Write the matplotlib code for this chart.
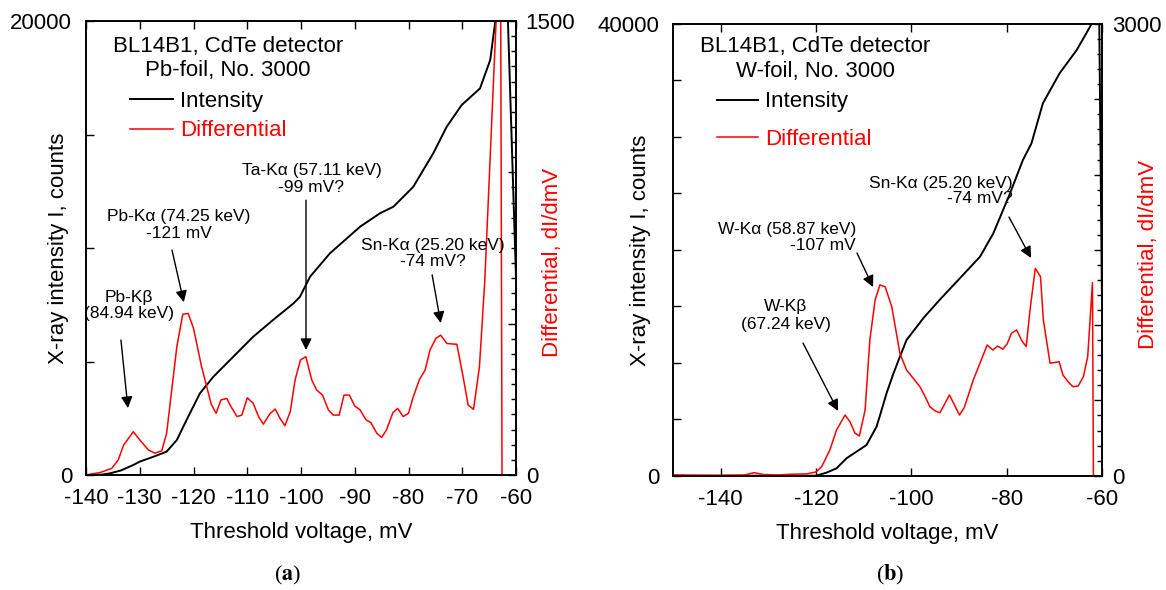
import matplotlib
matplotlib.use('Agg')
import matplotlib.pyplot as plt
from matplotlib.ticker import MultipleLocator, FuncFormatter

plt.rcParams['font.family'] = ['Liberation Sans', 'DejaVu Sans']
plt.rcParams['mathtext.fontset'] = 'stix'
plt.rcParams['axes.unicode_minus'] = False

# ---------------- Panel (a): Pb-foil ----------------
volt_a_I = [-140, -137, -135.5, -133.5, -131.2, -130, -127.5, -125, -123.1, -121.3,
            -118.8, -116.3, -112.6, -108.9, -105.2, -101.4, -100.2, -98.3, -94.6, -89,
            -85.3, -82.8, -79.1, -75.4, -72.9, -70.1, -66.7, -64.8, -63.9, -63, -62,
            -61.5, -60]
int_a = [0, 20, 75, 200, 440, 590, 800, 1030, 1540, 2420,
         3600, 4330, 5210, 6090, 6830, 7560, 7850, 8740, 9770, 10940,
         11530, 11820, 12700, 14170, 15340, 16300, 17030, 18280, 19900, 22500, 23500,
         20000, 8700]

volt_a_D = [-140, -137.4, -135.2, -134, -133, -131.2, -130, -128.4, -127.2, -125.9,
            -125, -123.1, -122, -121, -120, -118.5, -116.7, -115.8, -114.9, -113.8,
            -113.2, -111.9, -111, -110, -108.9, -107.9, -107, -105.8, -104.8, -103.9,
            -103, -102, -101.1, -100.1, -99.1, -98, -97.1, -96, -94.9, -94,
            -92.9, -92, -91, -90, -89, -87.9, -87, -85.9, -85, -84.1,
            -82.9, -82, -81, -80, -79.1, -78, -76.9, -76, -74.9, -74,
            -72.9, -72, -71, -69.9, -68.9, -67.9, -66.8, -65.8, -63.7, -63.0,
            -62.6]
diff_a = [0, 8, 22, 50, 99, 143, 116, 83, 72, 80,
          138, 424, 531, 534, 485, 358, 234, 204, 248, 253,
          231, 193, 198, 255, 237, 193, 168, 202, 218, 187,
          163, 209, 314, 380, 391, 314, 281, 264, 215, 198,
          198, 264, 264, 228, 215, 182, 173, 138, 124, 149,
          206, 220, 193, 204, 259, 314, 347, 413, 452, 462,
          435, 433, 432, 330, 231, 217, 358, 644, 1500, 2500,
          0]

# ---------------- Panel (b): W-foil ----------------
volt_b_I = [-150, -120, -117.8, -115.7, -113.6, -111.5, -109.4, -107.3, -106.6, -105.2,
            -103.8, -102.4, -101, -97.5, -94, -90, -85.6, -82.8, -79.3, -76.6,
            -74.8, -72.4, -68.9, -65.3, -62.9, -62.2, -61.5, -60.57, -60]
int_b = [0, 0, 270, 650, 1540, 2130, 2720, 4340, 5300, 7300,
         9000, 10540, 12020, 13940, 15600, 17400, 19390, 21460, 25000, 27950,
         29430, 32980, 35630, 37700, 39470, 40000, 43000, 40000, 15000]

volt_b_D = [-150, -145, -140, -135, -133, -131, -128, -125, -122, -120,
            -118.8, -117.1, -115.7, -113.9, -112.9, -111.8, -110.9, -109.7, -108.7, -107.6,
            -106.6, -105.5, -104.1, -102.4, -101, -99.6, -98.2, -97.1, -96.1, -95,
            -94, -92, -89.9, -88.9, -87, -85.6, -84.1, -82.9, -81.9, -80.8,
            -79.9, -79, -77.9, -76.8, -75.9, -75.1, -74, -72.9, -72.3, -70.9,
            -69, -68.2, -67.1, -66.1, -65, -63.9, -63.0, -62.0, -61.8]
diff_b = [5, 3, 2, 5, 20, 8, 5, 10, 12, 25,
          60, 170, 303, 403, 359, 282, 264, 436, 901, 1167,
          1267, 1255, 1122, 813, 702, 647, 591, 525, 458, 430,
          418, 536, 403, 452, 636, 747, 868, 835, 861, 841,
          875, 946, 968, 895, 857, 1100, 1377, 1322, 1034, 747,
          757, 669, 624, 591, 596, 658, 790, 1282, 0]

fig = plt.figure(figsize=(11.66, 5.9), dpi=100)


def endpoint_formatter(top):
    def f(v, pos):
        if abs(v) < 1e-9 or abs(v - top) < 1e-6:
            return '%d' % round(v)
        return ''
    return FuncFormatter(f)


def panel(rect, xlim, xstep, Imax, Istep, Dmax, Dmajor, Dminor,
          vI, I, vD, D, ylab_x, y2lab_x, y2lab_y):
    ax = fig.add_axes(rect)
    l1, = ax.plot(vI, I, color='black', lw=1.4, label='Intensity')
    ax.set_xlim(*xlim)
    ax.set_ylim(0, Imax)
    ax.xaxis.set_major_locator(MultipleLocator(xstep))
    ax.yaxis.set_major_locator(MultipleLocator(Istep))
    ax.yaxis.set_major_formatter(endpoint_formatter(Imax))
    ax.tick_params(axis='both', direction='in', length=5.5, width=1,
                   labelsize=16, top=True)
    ax.tick_params(axis='x', pad=9.5)
    ax.tick_params(axis='y', pad=10)
    ax.set_xlabel('Threshold voltage, mV', fontsize=16, labelpad=9.5)
    ax.set_ylabel('X-ray intensity I, counts', fontsize=16)
    ax.yaxis.set_label_coords(ylab_x, 0.5)
    for s in ax.spines.values():
        s.set_linewidth(1.2)

    ax2 = ax.twinx()
    l2, = ax2.plot(vD, D, color='red', lw=1.1, label='Differential')
    ax2.set_ylim(0, Dmax)
    ax2.yaxis.set_major_locator(MultipleLocator(Dmajor))
    ax2.yaxis.set_minor_locator(MultipleLocator(Dminor))
    ax2.yaxis.set_major_formatter(endpoint_formatter(Dmax))
    ax2.tick_params(which='major', direction='in', length=6, width=1,
                    labelsize=16, pad=7)
    ax2.tick_params(which='minor', direction='in', length=3.5, width=1)
    ax2.set_ylabel('Differential, dI/dmV', fontsize=16, color='red')
    ax2.yaxis.set_label_coords(y2lab_x, y2lab_y)
    for s in ax2.spines.values():
        s.set_linewidth(1.2)
    return ax, ax2, l1, l2


def arrow(ax, start, head):
    ax.annotate('', xy=head, xytext=start,
                arrowprops=dict(arrowstyle='-|>', color='black', lw=1.0,
                                mutation_scale=17, shrinkA=0, shrinkB=0))


# ---- panel (a)
axa, axa2, la1, la2 = panel([86 / 1166, 115 / 590, 430 / 1166, 454 / 590],
                            (-140, -60), 10, 20000, 5000, 1500, 500, 50,
                            volt_a_I, int_a, volt_a_D, diff_a,
                            -0.0395, 1.0598, 0.468)
axa2.text(0.330, 0.943, 'BL14B1, CdTe detector', transform=axa2.transAxes,
          ha='center', va='center', fontsize=16)
axa2.text(0.330, 0.892, 'Pb-foil, No. 3000', transform=axa2.transAxes,
          ha='center', va='center', fontsize=16)
axa2.legend(handles=[la1, la2], loc='upper left', bbox_to_anchor=(0.102, 0.846),
            frameon=False, fontsize=16, labelcolor=['black', 'red'],
            borderpad=0, borderaxespad=0, handlelength=1.95, handletextpad=0.3,
            labelspacing=0.38)

fs_ann = 12.5
axa2.text(-132.0, 560, 'Pb-K\u03b2\n(84.94 keV)', ha='center', va='center',
          fontsize=fs_ann, linespacing=1.15)
arrow(axa2, (-133.5, 446), (-132.2, 221))
axa2.text(-122.7, 826, 'Pb-K\u03b1 (74.25 keV)\n-121 mV', ha='center', va='center',
          fontsize=fs_ann, linespacing=1.1)
arrow(axa2, (-124.0, 743), (-121.8, 571))
axa2.text(-98.05, 978, 'Ta-K\u03b1 (57.11 keV)\n-99 mV?', ha='center', va='center',
          fontsize=fs_ann, linespacing=1.1)
arrow(axa2, (-99.07, 908), (-99.07, 413))
axa2.text(-75.44, 732, 'Sn-K\u03b1 (25.20 keV)\n-74 mV?', ha='center', va='center',
          fontsize=fs_ann, linespacing=1.1)
arrow(axa2, (-75.6, 661), (-74.0, 502))

# ---- panel (b)
axb, axb2, lb1, lb2 = panel([673 / 1166, 114.3 / 590, 429 / 1166, 451.7 / 590],
                            (-150, -60), 20, 40000, 5000, 3000, 500, 100,
                            volt_b_I, int_b, volt_b_D, diff_b,
                            -0.0513, 1.084, 0.489)
axb2.text(0.331, 0.951, 'BL14B1, CdTe detector', transform=axb2.transAxes,
          ha='center', va='center', fontsize=16)
axb2.text(0.331, 0.895, 'W-foil, No. 3000', transform=axb2.transAxes,
          ha='center', va='center', fontsize=16)
axb2.legend(handles=[lb1, lb2], loc='upper left', bbox_to_anchor=(0.1026, 0.851),
            frameon=False, fontsize=16, labelcolor=['black', 'red'],
            borderpad=0, borderaxespad=0, handlelength=1.85, handletextpad=0.3,
            labelspacing=0.74)

axb2.text(-111.6, 1582, 'W-K\u03b1 (58.87 keV)\n-107 mV', ha='right', va='center',
          fontsize=fs_ann, linespacing=1.1, multialignment='right')
arrow(axb2, (-111.4, 1479), (-108.04, 1253))
axb2.text(-126.3, 1067, 'W-K\u03b2\n(67.24 keV)', ha='center', va='center',
          fontsize=fs_ann, linespacing=1.25)
arrow(axb2, (-122.73, 881), (-115.38, 430))
axb2.text(-78.67, 1891, 'Sn-K\u03b1 (25.20 keV)\n-74 mV?', ha='right', va='center',
          fontsize=fs_ann, linespacing=1.05, multialignment='right')
arrow(axb2, (-79.51, 1718), (-74.9, 1446))

# sub-figure labels
fig.text(288 / 1166, 1 - 575 / 590, r'($\mathbf{a}$)', ha='center', va='center',
         fontsize=16, family='Liberation Serif')
fig.text(890 / 1166, 1 - 575 / 590, r'($\mathbf{b}$)', ha='center', va='center',
         fontsize=16, family='Liberation Serif')

fig.savefig('out.png', dpi=100)
